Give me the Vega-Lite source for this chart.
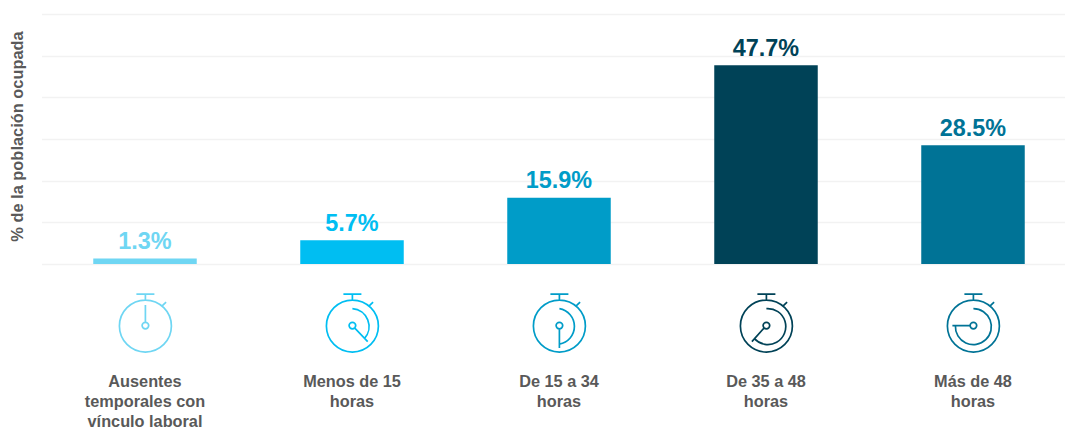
{
"$schema":"https://vega.github.io/schema/vega-lite/v6.json",
"autosize":"none",
"width":1023.5,
"height":250,
"padding":{"left":41.5,"top":14,"right":0,"bottom":164},
"background":"white",
"config":{"view":{"stroke":null},"font":"Liberation Sans"},
"data":{"values":[
{"categoria":"Ausentes temporales con vínculo laboral","porcentaje":1.3,"etiqueta":"1.3%"},
{"categoria":"Menos de 15 horas","porcentaje":5.7,"etiqueta":"5.7%"},
{"categoria":"De 15 a 34 horas","porcentaje":15.9,"etiqueta":"15.9%"},
{"categoria":"De 35 a 48 horas","porcentaje":47.7,"etiqueta":"47.7%"},
{"categoria":"Más de 48 horas","porcentaje":28.5,"etiqueta":"28.5%"}
]},
"encoding":{
"x":{"field":"categoria","type":"nominal","sort":null,
"scale":{"range":[0,1035],"paddingInner":0,"paddingOuter":0},
"axis":{"title":null,"domain":false,"ticks":false,"labelAngle":0,"labelAlign":"center","labelBaseline":"top","labelPadding":109,"labelFontSize":16.3,"labelFontWeight":"bold","labelColor":"#595959","labelLineHeight":20,"labelLimit":0,
"labelExpr":"{'Ausentes temporales con vínculo laboral':['Ausentes','temporales con','vínculo laboral'],'Menos de 15 horas':['Menos de 15','horas'],'De 15 a 34 horas':['De 15 a 34','horas'],'De 35 a 48 horas':['De 35 a 48','horas'],'Más de 48 horas':['Más de 48','horas']}[datum.label]"}},
"color":{"field":"categoria","type":"nominal","sort":null,"legend":null,
"scale":{"domain":["Ausentes temporales con vínculo laboral","Menos de 15 horas","De 15 a 34 horas","De 35 a 48 horas","Más de 48 horas"],
"range":["#6fd6f3","#00bef2","#009cc8","#004257","#007396"]}}
},
"layer":[
{"mark":{"type":"bar","width":103.5},
"encoding":{"y":{"field":"porcentaje","type":"quantitative","scale":{"domain":[0,60],"nice":false},
"axis":{"title":"% de la población ocupada","titleFontSize":16.4,"titleFontWeight":"bold","titleColor":"#595959","titleX":-16,"titleY":122,"labels":false,"ticks":false,"domain":false,"grid":true,"gridColor":"#f2f2f2","gridWidth":1.3,"values":[0,10,20,30,40,50,60]}}}},
{"mark":{"type":"text","baseline":"bottom","dy":-4.5,"fontSize":23.4,"fontWeight":"bold"},
"encoding":{"y":{"field":"porcentaje","type":"quantitative"},"text":{"field":"etiqueta"}}},
{"mark":{"type":"point","filled":false,"strokeWidth":1.7,"size":4,"opacity":1,"clip":false,"xOffset":0.4},
"encoding":{"y":{"datum":-14.9},
"shape":{"field":"categoria","type":"nominal","sort":null,"legend":null,
"scale":{"domain":["Ausentes temporales con vínculo laboral","Menos de 15 horas","De 15 a 34 horas","De 35 a 48 horas","Más de 48 horas"],
"range":[
"M-26,0A26,26 0 1,1 26,0A26,26 0 1,1 -26,0ZM-9,-32L9,-32M0,-32L0,-26M16.5,-20L20.7,-24M3.3,-0.5A3.3,3.3 0 1,1 -3.3,-0.5A3.3,3.3 0 1,1 3.3,-0.5ZM0,-4L0,-21",
"M-26,0A26,26 0 1,1 26,0A26,26 0 1,1 -26,0ZM-9,-32L9,-32M0,-32L0,-26M16.5,-20L20.7,-24M3.3,-0.5A3.3,3.3 0 1,1 -3.3,-0.5A3.3,3.3 0 1,1 3.3,-0.5ZM2.4,2L15.3,15.5M0,-17.5A18,18 0 0,1 12,12.5",
"M-26,0A26,26 0 1,1 26,0A26,26 0 1,1 -26,0ZM-9,-32L9,-32M0,-32L0,-26M16.5,-20L20.7,-24M3.3,-0.5A3.3,3.3 0 1,1 -3.3,-0.5A3.3,3.3 0 1,1 3.3,-0.5ZM0,3L0,22M0,-17.5A18,18 0 0,1 0,18",
"M-26,0A26,26 0 1,1 26,0A26,26 0 1,1 -26,0ZM-9,-32L9,-32M0,-32L0,-26M16.5,-20L20.7,-24M3.3,-0.5A3.3,3.3 0 1,1 -3.3,-0.5A3.3,3.3 0 1,1 3.3,-0.5ZM-2.4,2L-14.5,15.5M0,-17.5A18,18 0 1,1 -12,12.5",
"M-26,0A26,26 0 1,1 26,0A26,26 0 1,1 -26,0ZM-9,-32L9,-32M0,-32L0,-26M16.5,-20L20.7,-24M3.3,-0.5A3.3,3.3 0 1,1 -3.3,-0.5A3.3,3.3 0 1,1 3.3,-0.5ZM-3.3,-0.5L-21,-0.5M0,-17.5A18,18 0 1,1 -18,-0.5"
]}}}}
]
}
